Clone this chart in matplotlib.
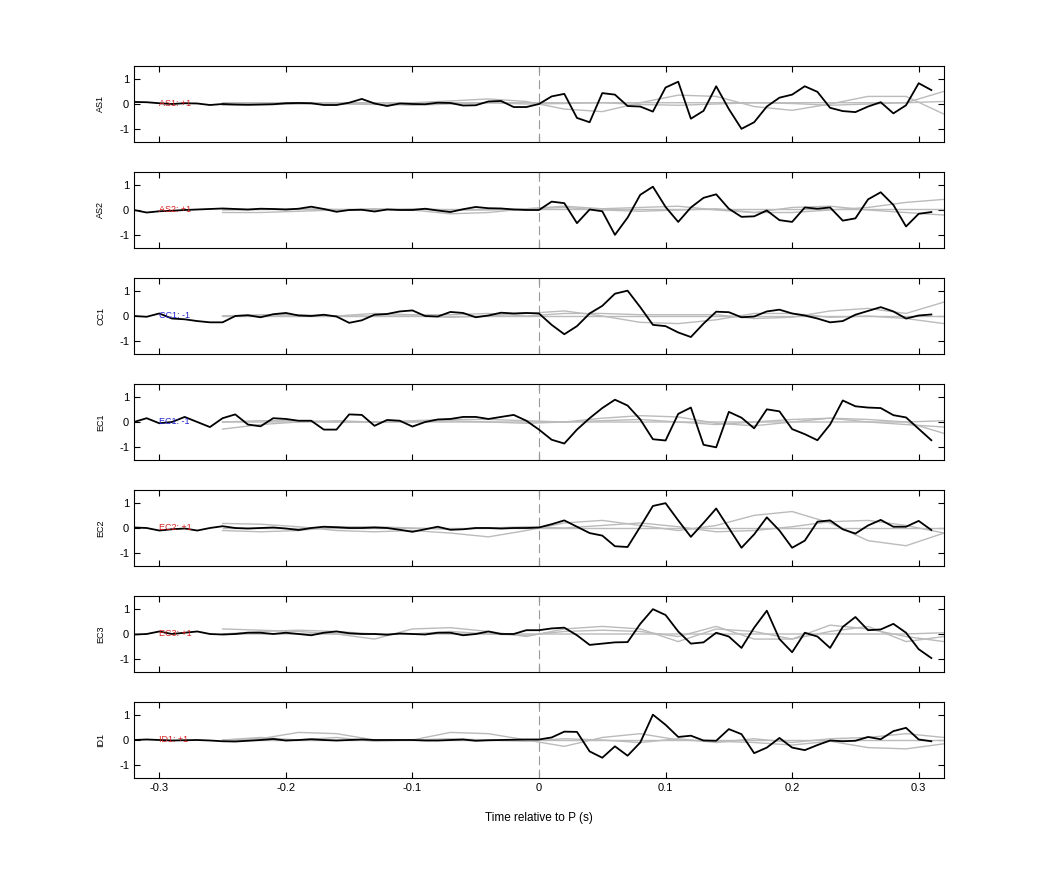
import matplotlib
matplotlib.use("Agg")
import matplotlib.pyplot as plt
import numpy as np

stations = ["AS1", "AS2", "CC1", "EC1", "EC2", "EC3", "ID1"]
polarity = ["+1", "+1", "-1", "-1", "+1", "+1", "+1"]
pol_colors = ["#d62020", "#d62020", "#2020d0", "#2020d0", "#d62020", "#d62020", "#d62020"]

time = np.round(np.arange(-0.32, 0.315, 0.01), 2)

traces = {
 "AS1": [0.08,0.07,0.03,0.0,0.03,0.02,-0.04,0.0,-0.02,-0.03,-0.02,-0.01,0.03,0.04,0.03,-0.04,-0.04,0.05,0.2,0.02,-0.08,0.02,0.0,-0.01,0.05,0.04,-0.06,-0.05,0.1,0.12,-0.12,-0.12,
         0.0,0.3,0.4,-0.55,-0.72,0.43,0.37,-0.08,-0.1,-0.3,0.65,0.88,-0.58,-0.27,0.7,-0.2,-0.98,-0.72,-0.1,0.25,0.37,0.7,0.48,-0.15,-0.28,-0.32,-0.1,0.07,-0.37,-0.05,0.82,0.55],
 "AS2": [0.0,-0.1,-0.05,-0.03,0.0,0.02,0.04,0.06,0.04,0.02,0.05,0.04,0.02,0.05,0.13,0.04,-0.07,0.0,0.01,-0.06,0.02,0.0,0.0,0.05,-0.02,-0.08,0.03,0.12,0.07,0.06,0.02,0.0,
         0.0,0.33,0.27,-0.52,0.02,-0.05,-0.98,-0.3,0.6,0.92,0.12,-0.47,0.1,0.48,0.62,0.05,-0.27,-0.25,-0.02,-0.4,-0.47,0.1,0.05,0.1,-0.42,-0.33,0.42,0.7,0.2,-0.65,-0.15,-0.08],
 "CC1": [0.0,-0.03,0.1,-0.1,-0.13,-0.2,-0.25,-0.25,0.0,0.03,-0.05,0.07,0.12,0.02,0.0,0.05,-0.02,-0.27,-0.17,0.05,0.08,0.18,0.22,0.0,-0.02,0.16,0.12,-0.05,0.02,0.13,0.1,0.12,
         0.1,-0.35,-0.72,-0.4,0.1,0.4,0.88,1.0,0.35,-0.35,-0.4,-0.65,-0.83,-0.3,0.17,0.15,-0.05,-0.02,0.18,0.25,0.1,0.02,-0.1,-0.25,-0.2,0.05,0.2,0.35,0.18,-0.1,0.02,0.06],
 "EC1": [0.0,0.15,-0.05,0.0,0.2,0.0,-0.2,0.15,0.3,-0.1,-0.17,0.15,0.12,0.05,0.05,-0.3,-0.3,0.3,0.28,-0.15,0.08,0.05,-0.18,0.0,0.1,0.12,0.2,0.2,0.12,0.2,0.28,0.05,
         -0.3,-0.7,-0.85,-0.3,0.15,0.55,0.88,0.65,0.1,-0.68,-0.73,0.32,0.57,-0.9,-1.0,0.4,0.17,-0.25,0.5,0.42,-0.28,-0.48,-0.72,-0.1,0.85,0.62,0.57,0.55,0.27,0.18,-0.27,-0.72],
 "EC2": [0.02,0.0,-0.1,-0.05,-0.02,-0.1,0.0,0.07,0.0,-0.02,0.0,0.02,-0.02,-0.08,0.0,0.05,0.03,0.0,0.0,0.02,0.0,-0.07,-0.15,-0.05,0.05,-0.07,-0.05,0.0,0.0,-0.02,0.0,0.0,
         0.02,0.15,0.3,0.05,-0.2,-0.3,-0.72,-0.75,0.05,0.87,0.98,0.3,-0.35,0.2,0.77,0.0,-0.78,-0.25,0.42,-0.1,-0.78,-0.5,0.25,0.3,-0.05,-0.22,0.1,0.32,0.05,0.05,0.28,-0.08],
 "EC3": [-0.02,0.0,0.1,0.0,0.05,0.1,0.0,-0.02,0.0,0.05,0.05,0.0,0.05,0.0,-0.05,0.05,0.1,0.03,0.0,0.0,-0.03,0.02,0.0,-0.02,0.05,0.05,-0.05,0.0,0.1,0.0,0.0,0.15,
         0.15,0.22,0.25,-0.05,-0.43,-0.38,-0.33,-0.32,0.4,0.98,0.75,0.1,-0.38,-0.33,0.05,-0.1,-0.55,0.25,0.92,-0.2,-0.72,0.05,-0.1,-0.55,0.28,0.67,0.15,0.18,0.4,0.05,-0.6,-0.95],
 "ID1": [0.0,0.02,0.0,-0.02,-0.01,0.0,-0.02,-0.05,-0.06,-0.03,0.0,0.04,-0.02,0.0,0.03,0.0,-0.02,0.0,0.02,0.0,0.0,0.0,0.0,-0.02,-0.02,0.0,0.02,-0.03,-0.01,0.0,0.01,0.02,
         0.02,0.1,0.33,0.32,-0.45,-0.7,-0.25,-0.62,-0.1,1.0,0.6,0.12,0.17,-0.02,-0.03,0.43,0.23,-0.52,-0.3,0.08,-0.3,-0.4,-0.2,-0.02,-0.05,-0.03,0.12,0.03,0.35,0.48,0.02,-0.05],
}

# synthetic comparison traces (gray), sampled every 0.03 s from -0.25 s
gray_time = np.round(np.arange(-0.25, 0.33, 0.03), 2)
gray = {
 "AS1": [[0.0,0.0,0.02,0.0,-0.02,0.05,0.12,0.2,0.1,-0.2,-0.3,0.05,0.35,0.3,-0.1,-0.25,0.0,0.3,0.3,-0.4],
         [-0.05,-0.03,0.0,0.03,0.0,-0.05,0.0,0.05,0.0,0.02,0.05,-0.02,-0.05,0.0,0.05,0.02,-0.05,0.0,0.05,0.5],
         [0.05,0.05,0.05,0.05,0.05,0.05,0.05,0.05,0.05,0.05,0.05,0.05,0.05,0.05,0.05,0.05,0.05,0.05,0.05,0.1]],
 "AS2": [[-0.1,-0.1,-0.05,0.0,0.05,0.0,-0.15,-0.1,0.05,0.15,0.05,0.1,0.15,0.0,-0.1,0.1,0.15,0.0,-0.1,-0.2],
         [0.0,0.02,0.05,0.02,0.0,0.05,0.0,0.0,0.05,0.1,0.0,-0.05,0.0,0.05,-0.1,-0.1,0.0,0.1,0.3,0.42],
         [0.05,0.05,0.05,0.05,0.05,0.05,0.05,0.05,0.05,0.05,0.05,0.05,0.05,0.05,0.05,0.05,0.05,0.05,0.05,0.05]],
 "CC1": [[0.0,0.0,0.0,0.0,0.0,0.0,-0.05,0.0,0.1,0.2,0.0,-0.25,-0.3,-0.15,0.1,0.1,-0.05,0.0,-0.1,-0.3],
         [0.0,0.05,0.05,0.0,0.1,0.05,0.05,0.1,0.0,0.1,0.1,0.05,0.05,0.05,-0.1,-0.05,0.2,0.3,0.1,0.55],
         [0.0,0.0,0.0,0.0,0.0,0.0,0.0,0.0,0.0,0.0,0.0,0.0,0.0,0.0,0.0,0.0,0.0,0.0,0.0,0.0]],
 "EC1": [[-0.28,-0.1,0.0,0.05,0.0,0.0,0.05,0.0,-0.05,0.0,0.15,0.25,0.2,-0.05,-0.15,0.0,0.15,0.1,0.0,-0.45],
         [0.0,0.05,0.05,0.0,0.0,0.05,0.1,0.1,0.05,0.0,0.05,0.1,0.0,-0.1,0.0,0.1,0.15,0.0,-0.1,-0.2],
         [0.0,0.0,0.0,0.0,0.0,0.0,0.0,0.0,0.0,0.0,0.0,0.0,0.0,0.0,0.0,0.0,0.0,0.0,0.0,0.05]],
 "EC2": [[0.18,0.15,0.05,-0.1,-0.15,-0.1,-0.2,-0.35,-0.1,0.2,0.3,0.1,-0.1,0.1,0.5,0.65,0.2,-0.5,-0.7,-0.2],
         [-0.1,-0.15,-0.1,0.05,0.05,0.0,-0.05,0.0,0.05,0.0,0.1,0.2,0.05,-0.15,-0.1,0.05,0.25,0.3,0.1,-0.2],
         [0.0,0.0,0.0,0.0,0.0,0.0,0.0,0.0,0.0,0.0,0.0,0.0,0.0,0.0,0.0,0.0,0.0,0.0,0.0,0.0]],
 "EC3": [[0.2,0.15,0.1,0.0,-0.2,0.2,0.25,0.1,-0.1,0.2,0.3,0.2,-0.3,0.2,0.1,-0.2,0.35,0.2,-0.1,-0.3],
         [0.0,0.1,0.15,0.1,0.0,0.0,0.1,0.0,-0.05,0.1,0.15,0.1,-0.1,0.3,-0.2,-0.2,0.1,0.3,-0.3,-0.1],
         [0.0,0.0,0.0,0.0,0.0,0.0,0.0,0.0,0.0,0.0,0.0,0.0,0.0,0.0,0.0,0.0,0.0,0.0,0.0,0.05]],
 "ID1": [[0.0,0.05,0.3,0.25,0.0,0.0,0.3,0.25,0.0,-0.25,0.1,0.25,0.0,-0.05,-0.1,-0.2,-0.05,-0.3,-0.35,-0.15],
         [0.0,0.1,0.0,0.1,-0.05,0.0,0.05,0.0,-0.05,0.05,0.0,-0.1,0.05,-0.1,0.05,-0.1,0.05,0.1,0.25,0.1],
         [0.0,0.0,0.0,0.0,0.0,0.0,0.0,0.0,0.0,0.0,0.0,0.0,0.0,0.0,0.0,0.0,0.0,0.0,0.0,0.0]],
}

W, H = 1042, 875
fig = plt.figure(figsize=(W/100, H/100), dpi=100)
plt.rcParams['font.family'] = ['Liberation Sans', 'DejaVu Sans']
tops = [66, 172, 278, 384, 490, 596, 702]
left, right, h = 134, 944, 76
for i, st in enumerate(stations):
    ax = fig.add_axes([left/W, 1-(tops[i]+h)/H, (right-left)/W, h/H])
    for g in gray[st]:
        ax.plot(gray_time, g, color="#bbbbbb", lw=1.0)
    ax.axvline(0, color="#999999", lw=0.8, ls=(0, (8, 4)))
    ax.plot(time, traces[st], color="black", lw=1.3)
    ax.text(-0.30, 0, f"{st}: {polarity[i]}", color=pol_colors[i], fontsize=6.5, va="center", ha="left")
    ax.set_xlim(-0.32, 0.32)
    ax.set_ylim(-1.5, 1.5)
    ax.set_yticks([-1, 0, 1])
    ax.set_yticklabels(["-1", "0", "1"])
    ax.set_xticks([-0.3, -0.2, -0.1, 0, 0.1, 0.2, 0.3])
    ax.tick_params(direction="in", top=True, right=True, labelsize=8, length=4, width=0.8)
    ax.set_ylabel(st, fontsize=6.5, labelpad=10)
    for s in ax.spines.values():
        s.set_linewidth(0.8)
    if i < len(stations) - 1:
        ax.set_xticklabels([])
    else:
        ax.set_xticklabels(["-0.3", "-0.2", "-0.1", "0", "0.1", "0.2", "0.3"])
        ax.set_xlabel("Time relative to P (s)", fontsize=8.5, labelpad=14)
fig.savefig("out.png", dpi=100)
